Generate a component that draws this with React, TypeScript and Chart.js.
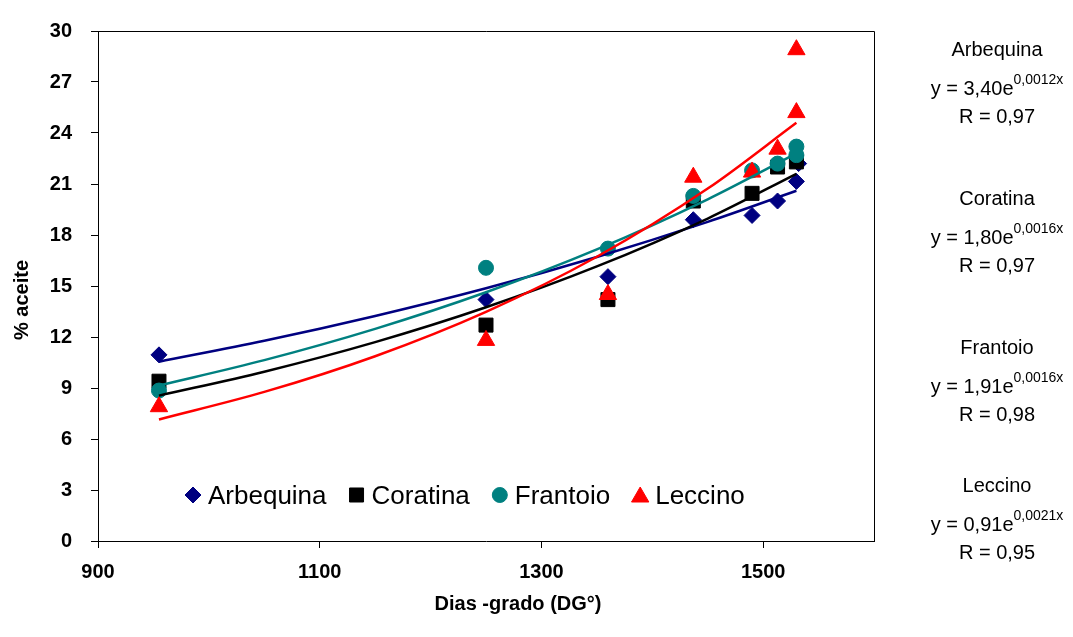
import React, { useEffect, useRef } from "react";
import { Chart, registerables, PointElement } from "chart.js";

Chart.register(...registerables);

// ---- data ----
const seriesNames = ["Arbequina", "Coratina", "Frantoio", "Leccino"];

const arbequinaX = [955, 1250, 1360, 1437, 1490, 1513, 1530, 1532];
const arbequinaY = [10.95, 14.2, 15.55, 18.9, 19.15, 20.0, 21.15, 22.2];
const coratinaX = [955, 1250, 1360, 1437, 1490, 1513, 1530];
const coratinaY = [9.4, 12.7, 14.2, 20.0, 20.45, 22.0, 22.3];
const frantoioX = [955, 1250, 1360, 1437, 1490, 1513, 1530, 1530];
const frantoioY = [8.85, 16.07, 17.2, 20.3, 21.8, 22.2, 22.7, 23.2];
const leccinoX = [955, 1250, 1360, 1437, 1490, 1513, 1530, 1530];
const leccinoY = [7.9, 11.8, 14.5, 21.4, 21.7, 23.05, 25.2, 28.9];

// trend-line curves, read at these x positions
const trendX = [955, 1050, 1150, 1250, 1350, 1450, 1530];
const arbequinaTrend = [10.55, 11.78, 13.24, 14.87, 16.71, 18.77, 20.6];
const coratinaTrend = [8.55, 9.96, 11.7, 13.75, 16.15, 18.97, 21.6];
const frantoioTrend = [9.15, 10.64, 12.48, 14.63, 17.15, 20.1, 22.8];
const leccinoTrend = [7.15, 8.77, 10.87, 13.48, 16.72, 20.73, 24.6];

const equationCoef = ["3,40", "1,80", "1,91", "0,91"];
const equationExp = ["0,0012x", "0,0016x", "0,0016x", "0,0021x"];
const rValues = ["0,97", "0,97", "0,98", "0,95"];

const xTicks = [900, 1100, 1300, 1500];
const yTicks = [0, 3, 6, 9, 12, 15, 18, 21, 24, 27, 30];

const xTitle = "Dias -grado (DG°)";
const yTitle = "% aceite";

// ---- styles ----
const colors = ["#000080", "#000000", "#008080", "#FF0000"];
const pointStyles = ["rectRot", "rect", "circle", "triangle"];
const pointRadii = [8, 9.9, 7.5, 10];
const FONT = "'Liberation Sans', Arial, sans-serif";

const pts = (xs: number[], ys: number[]) => xs.map((x, i) => ({ x, y: ys[i] }));

const overlayPlugin = {
  id: "overlay",
  afterDraw(chart: any) {
    const ctx = chart.ctx as CanvasRenderingContext2D;
    const a = chart.chartArea;
    ctx.save();
    // top & right frame
    ctx.strokeStyle = "#000";
    ctx.lineWidth = 1;
    ctx.beginPath();
    ctx.moveTo(a.left, a.top + 0.5);
    ctx.lineTo(a.right + 0.5, a.top + 0.5);
    ctx.lineTo(a.right + 0.5, a.bottom);
    ctx.stroke();

    ctx.fillStyle = "#000";
    // x title
    ctx.font = `bold 20px ${FONT}`;
    ctx.textAlign = "center";
    ctx.textBaseline = "middle";
    ctx.fillText(xTitle, 518, 604);
    // y title
    ctx.save();
    ctx.translate(22, 300);
    ctx.rotate(-Math.PI / 2);
    ctx.fillText(yTitle, 0, 0);
    ctx.restore();

    // legend inside plot
    ctx.font = `26px ${FONT}`;
    ctx.textAlign = "left";
    ctx.textBaseline = "alphabetic";
    let cursor = 185;
    const ly = 495;
    seriesNames.forEach((name, i) => {
      const cx = cursor + 8;
      const p: any = new (PointElement as any)({
        x: cx,
        y: i === 3 ? ly + 2 : ly,
        options: {
          pointStyle: pointStyles[i],
          radius: pointRadii[i],
          rotation: 0,
          borderWidth: 1,
          backgroundColor: colors[i],
          borderColor: colors[i],
        },
      });
      p.draw(ctx, a);
      ctx.fillStyle = "#000";
      const tx = cx + 15;
      ctx.fillText(name, tx, ly + 9);
      cursor = tx + ctx.measureText(name).width + 22;
    });

    // equations at right
    const blockY = [50, 199, 348, 486];
    const centerX = 997;
    seriesNames.forEach((name, i) => {
      const by = blockY[i];
      ctx.fillStyle = "#000";
      ctx.textBaseline = "middle";
      ctx.textAlign = "center";
      ctx.font = `20px ${FONT}`;
      ctx.fillText(name, centerX, by);
      ctx.fillText(`R = ${rValues[i]}`, centerX, by + 67);
      // equation with superscript
      const main = `y = ${equationCoef[i]}e`;
      ctx.font = `20px ${FONT}`;
      const wMain = ctx.measureText(main).width;
      ctx.font = `14px ${FONT}`;
      const wSup = ctx.measureText(equationExp[i]).width;
      const start = centerX - (wMain + wSup) / 2;
      ctx.textAlign = "left";
      ctx.textBaseline = "alphabetic";
      ctx.font = `20px ${FONT}`;
      ctx.fillText(main, start, by + 45);
      ctx.font = `14px ${FONT}`;
      ctx.fillText(equationExp[i], start + wMain, by + 34);
    });
    ctx.restore();
  },
};

export default function App() {
  const ref = useRef<HTMLCanvasElement | null>(null);
  useEffect(() => {
    document.body.style.margin = "0";
    const canvas = ref.current!;
    const markerSets = [
      pts(arbequinaX, arbequinaY),
      pts(coratinaX, coratinaY),
      pts(frantoioX, frantoioY),
      pts(leccinoX, leccinoY),
    ];
    const trendSets = [
      pts(trendX, arbequinaTrend),
      pts(trendX, coratinaTrend),
      pts(trendX, frantoioTrend),
      pts(trendX, leccinoTrend),
    ];
    const datasets: any[] = [];
    markerSets.forEach((d, i) => {
      datasets.push({
        label: seriesNames[i],
        data: d,
        showLine: false,
        pointStyle: pointStyles[i],
        pointRadius: pointRadii[i],
        pointBackgroundColor: colors[i],
        pointBorderColor: colors[i],
        pointBorderWidth: 1,
        order: 10 - i,
      });
    });
    trendSets.forEach((d, i) => {
      datasets.push({
        label: seriesNames[i] + " trend",
        data: d,
        showLine: true,
        borderColor: colors[i],
        borderWidth: 2.5,
        pointRadius: 0,
        cubicInterpolationMode: "monotone",
        fill: false,
        order: 4 - i,
      });
    });

    const chart = new Chart(canvas, {
      type: "scatter",
      data: { datasets },
      options: {
        responsive: false,
        animation: false,
        devicePixelRatio: 1,
        layout: { padding: { top: 26, right: 199, left: 0, bottom: 0 } },
        plugins: { legend: { display: false }, tooltip: { enabled: false } },
        scales: {
          x: {
            type: "linear",
            min: 900,
            max: 1600,
            afterBuildTicks: (s: any) => {
              s.ticks = xTicks.map((v) => ({ value: v }));
            },
            afterFit: (s: any) => {
              s.height = 96;
            },
            grid: {
              display: true,
              drawOnChartArea: false,
              drawTicks: true,
              tickLength: 7,
              color: "#000",
            },
            border: { display: true, color: "#000", width: 1 },
            ticks: {
              color: "#000",
              padding: 12,
              maxRotation: 0,
              font: { family: FONT, size: 20, weight: "bold" },
              callback: (v: any) => String(v),
            },
          },
          y: {
            type: "linear",
            min: 0,
            max: 30,
            afterBuildTicks: (s: any) => {
              s.ticks = yTicks.map((v) => ({ value: v }));
            },
            afterFit: (s: any) => {
              s.width = 98;
            },
            grid: {
              display: true,
              drawOnChartArea: false,
              drawTicks: true,
              tickLength: 7,
              color: "#000",
            },
            border: { display: true, color: "#000", width: 1 },
            ticks: {
              color: "#000",
              padding: 19,
              font: { family: FONT, size: 20, weight: "bold" },
              callback: (v: any) => String(v),
            },
          },
        },
      } as any,
      plugins: [overlayPlugin],
    });
    return () => chart.destroy();
  }, []);
  return (
    <div style={{ width: 1073, height: 637 }}>
      <canvas ref={ref} width={1073} height={637} style={{ display: "block" }} />
    </div>
  );
}
